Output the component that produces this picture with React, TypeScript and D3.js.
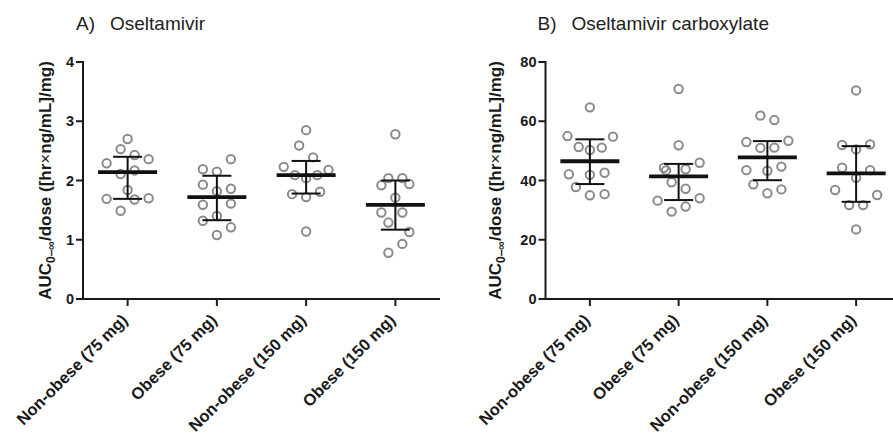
import React from "react";
import * as d3 from "d3";

const categories = ["Non-obese (75 mg)", "Obese (75 mg)", "Non-obese (150 mg)", "Obese (150 mg)"];

// Panel A: Oseltamivir AUC/dose
const aValues = [
  [2.70, 2.53, 2.43, 2.29, 2.36, 2.11, 2.17, 1.84, 1.69, 1.68, 1.70, 1.49],
  [2.36, 2.19, 2.15, 1.93, 1.86, 1.82, 1.59, 1.61, 1.40, 1.32, 1.21, 1.08],
  [2.85, 2.59, 2.39, 2.23, 2.18, 2.09, 2.09, 2.04, 1.77, 1.81, 1.72, 1.14],
  [2.78, 2.04, 2.04, 1.92, 1.94, 1.71, 1.46, 1.46, 1.29, 1.13, 0.93, 0.78],
];
// swarm slot of each point (dodge index within the column)
const aSlots = [
  [0, -1, 1, -3, 3, -1, 1, 0, -3, 1, 3, -1],
  [2, -2, 0, -2, 2, 0, -2, 2, 0, -2, 2, 0],
  [0, -1, 1, -3.2, 3.2, -1.6, 1.6, 0, -2, 2, 0, 0],
  [0, -1, 1, -2, 2, 0, -2, 1, -1, 2, 1, -1],
];
const aMedian = [2.14, 1.72, 2.09, 1.59];
const aQ1 = [1.69, 1.33, 1.78, 1.17];
const aQ3 = [2.40, 2.08, 2.33, 2.00];
const aTicks = [0, 1, 2, 3, 4];

// Panel B: Oseltamivir carboxylate AUC/dose
const bValues = [
  [64.7, 55.0, 54.8, 51.3, 50.3, 51.1, 42.1, 41.9, 42.6, 37.8, 35.0, 35.4],
  [70.9, 51.9, 46.0, 44.3, 43.4, 43.8, 39.4, 37.2, 33.2, 34.0, 29.5, 31.2],
  [61.9, 60.4, 53.0, 53.4, 51.0, 51.1, 43.5, 43.3, 44.7, 38.7, 35.7, 37.0],
  [70.4, 52.0, 50.5, 52.2, 44.3, 43.5, 40.9, 36.8, 35.1, 31.7, 31.7, 23.5],
];
const bSlots = [
  [0, -3.2, 3.3, -1.6, 0, 1.7, -3, 0, 2.1, -2, 0, 2.1],
  [0, 0, 3, -2.1, -1.8, 1, -1, 1, -3, 3, -1, 1],
  [-1, 1, -3, 3, -1, 1, -3, 0, 2, -2, 0, 2],
  [0, -2, 0, 2, -2, 2, 0, -3, 3, -1, 1, 0],
];
const bMedian = [46.5, 41.4, 47.8, 42.4];
const bQ1 = [38.8, 33.4, 40.1, 32.8];
const bQ3 = [53.9, 45.6, 53.3, 51.6];
const bTicks = [0, 20, 40, 60, 80];

const FONT = "'Liberation Sans', Arial, Helvetica, sans-serif";
const AXIS = "#1a1a1a";
const DOT = "#8a8a8a";

type PanelProps = {
  letter: string;
  title: string;
  values: number[][];
  slots: number[][];
  median: number[];
  q1: number[];
  q3: number[];
  ticks: number[];
  xLeft: number;
  xRight: number;
  labelX: number;
  titleX: number;
};

function Panel(p: PanelProps) {
  const yTop = 62;
  const yBottom = 299;
  const y = d3.scaleLinear().domain([0, p.ticks[p.ticks.length - 1]]).range([yBottom, yTop]);
  const x = d3.scaleBand<string>().domain(categories).range([p.xLeft, p.xRight]).padding(0);
  const slotW = 7;
  const halfMean = 29.5;
  const halfCap = 14.5;
  const tickLen = 7;
  const midY = (yTop + yBottom) / 2;
  return (
    <g>
      <text x={p.titleX} y={30} fontFamily={FONT} fontSize={19} fill="#222">{p.letter}</text>
      <text x={p.titleX + 34} y={30} fontFamily={FONT} fontSize={19} fill="#222">{p.title}</text>

      {/* y axis title */}
      <text
        transform={`translate(${p.labelX},${midY}) rotate(-90)`}
        textAnchor="middle"
        fontFamily={FONT}
        fontWeight="bold"
        fontSize={17}
        fill={AXIS}
      >
        AUC<tspan fontSize={12} dy={4}>0–∞</tspan>
        <tspan dy={-4}>/dose ([hr</tspan>
        <tspan fontWeight="normal">×</tspan>
        <tspan>ng/mL]/mg)</tspan>
      </text>

      {/* y axis */}
      <line x1={p.xLeft} x2={p.xLeft} y1={yTop - 1} y2={yBottom + 1} stroke={AXIS} strokeWidth={2} />
      {p.ticks.map((t) => (
        <g key={t}>
          <line x1={p.xLeft - tickLen} x2={p.xLeft} y1={y(t)} y2={y(t)} stroke={AXIS} strokeWidth={2} />
          <text
            x={p.xLeft - tickLen - 2}
            y={y(t)}
            dy="0.36em"
            textAnchor="end"
            fontFamily={FONT}
            fontWeight="bold"
            fontSize={14.5}
            fill={AXIS}
          >
            {t}
          </text>
        </g>
      ))}

      {/* x axis */}
      <line x1={p.xLeft - 5} x2={p.xRight} y1={yBottom} y2={yBottom} stroke={AXIS} strokeWidth={2} />
      {categories.map((c) => {
        const cx = (x(c) as number) + x.bandwidth() / 2;
        return (
          <g key={c}>
            <line x1={cx} x2={cx} y1={yBottom} y2={yBottom + tickLen} stroke={AXIS} strokeWidth={2} />
            <text
              transform={`translate(${cx + 1},${yBottom + 22}) rotate(-45)`}
              textAnchor="end"
              fontFamily={FONT}
              fontWeight="bold"
              fontSize={16.5}
              fill={AXIS}
            >
              {c}
            </text>
          </g>
        );
      })}

      {/* points */}
      {categories.map((c, i) => {
        const cx = (x(c) as number) + x.bandwidth() / 2;
        return (
          <g key={"pts" + c}>
            {p.values[i].map((v, j) => (
              <circle
                key={j}
                cx={cx + p.slots[i][j] * slotW}
                cy={y(v)}
                r={4.2}
                fill="none"
                stroke={DOT}
                strokeWidth={2}
              />
            ))}
          </g>
        );
      })}

      {/* median and IQR */}
      {categories.map((c, i) => {
        const cx = (x(c) as number) + x.bandwidth() / 2;
        return (
          <g key={"sum" + c} stroke="#111">
            <line x1={cx} x2={cx} y1={y(p.q1[i])} y2={y(p.q3[i])} strokeWidth={2} />
            <line x1={cx - halfCap} x2={cx + halfCap} y1={y(p.q1[i])} y2={y(p.q1[i])} strokeWidth={2} />
            <line x1={cx - halfCap} x2={cx + halfCap} y1={y(p.q3[i])} y2={y(p.q3[i])} strokeWidth={2} />
            <line x1={cx - halfMean} x2={cx + halfMean} y1={y(p.median[i])} y2={y(p.median[i])} strokeWidth={3.8} />
          </g>
        );
      })}
    </g>
  );
}

export default function App() {
  return (
    <svg
      width={893}
      height={439}
      style={{ position: "absolute", left: 0, top: 0, background: "#fff" }}
    >
      <rect width={893} height={439} fill="#fff" />
      <Panel
        letter="A)"
        title="Oseltamivir"
        values={aValues}
        slots={aSlots}
        median={aMedian}
        q1={aQ1}
        q3={aQ3}
        ticks={aTicks}
        xLeft={83}
        xRight={440}
        labelX={51}
        titleX={76}
      />
      <Panel
        letter="B)"
        title="Oseltamivir carboxylate"
        values={bValues}
        slots={bSlots}
        median={bMedian}
        q1={bQ1}
        q3={bQ3}
        ticks={bTicks}
        xLeft={545.5}
        xRight={900.5}
        labelX={501}
        titleX={537.5}
      />
    </svg>
  );
}
